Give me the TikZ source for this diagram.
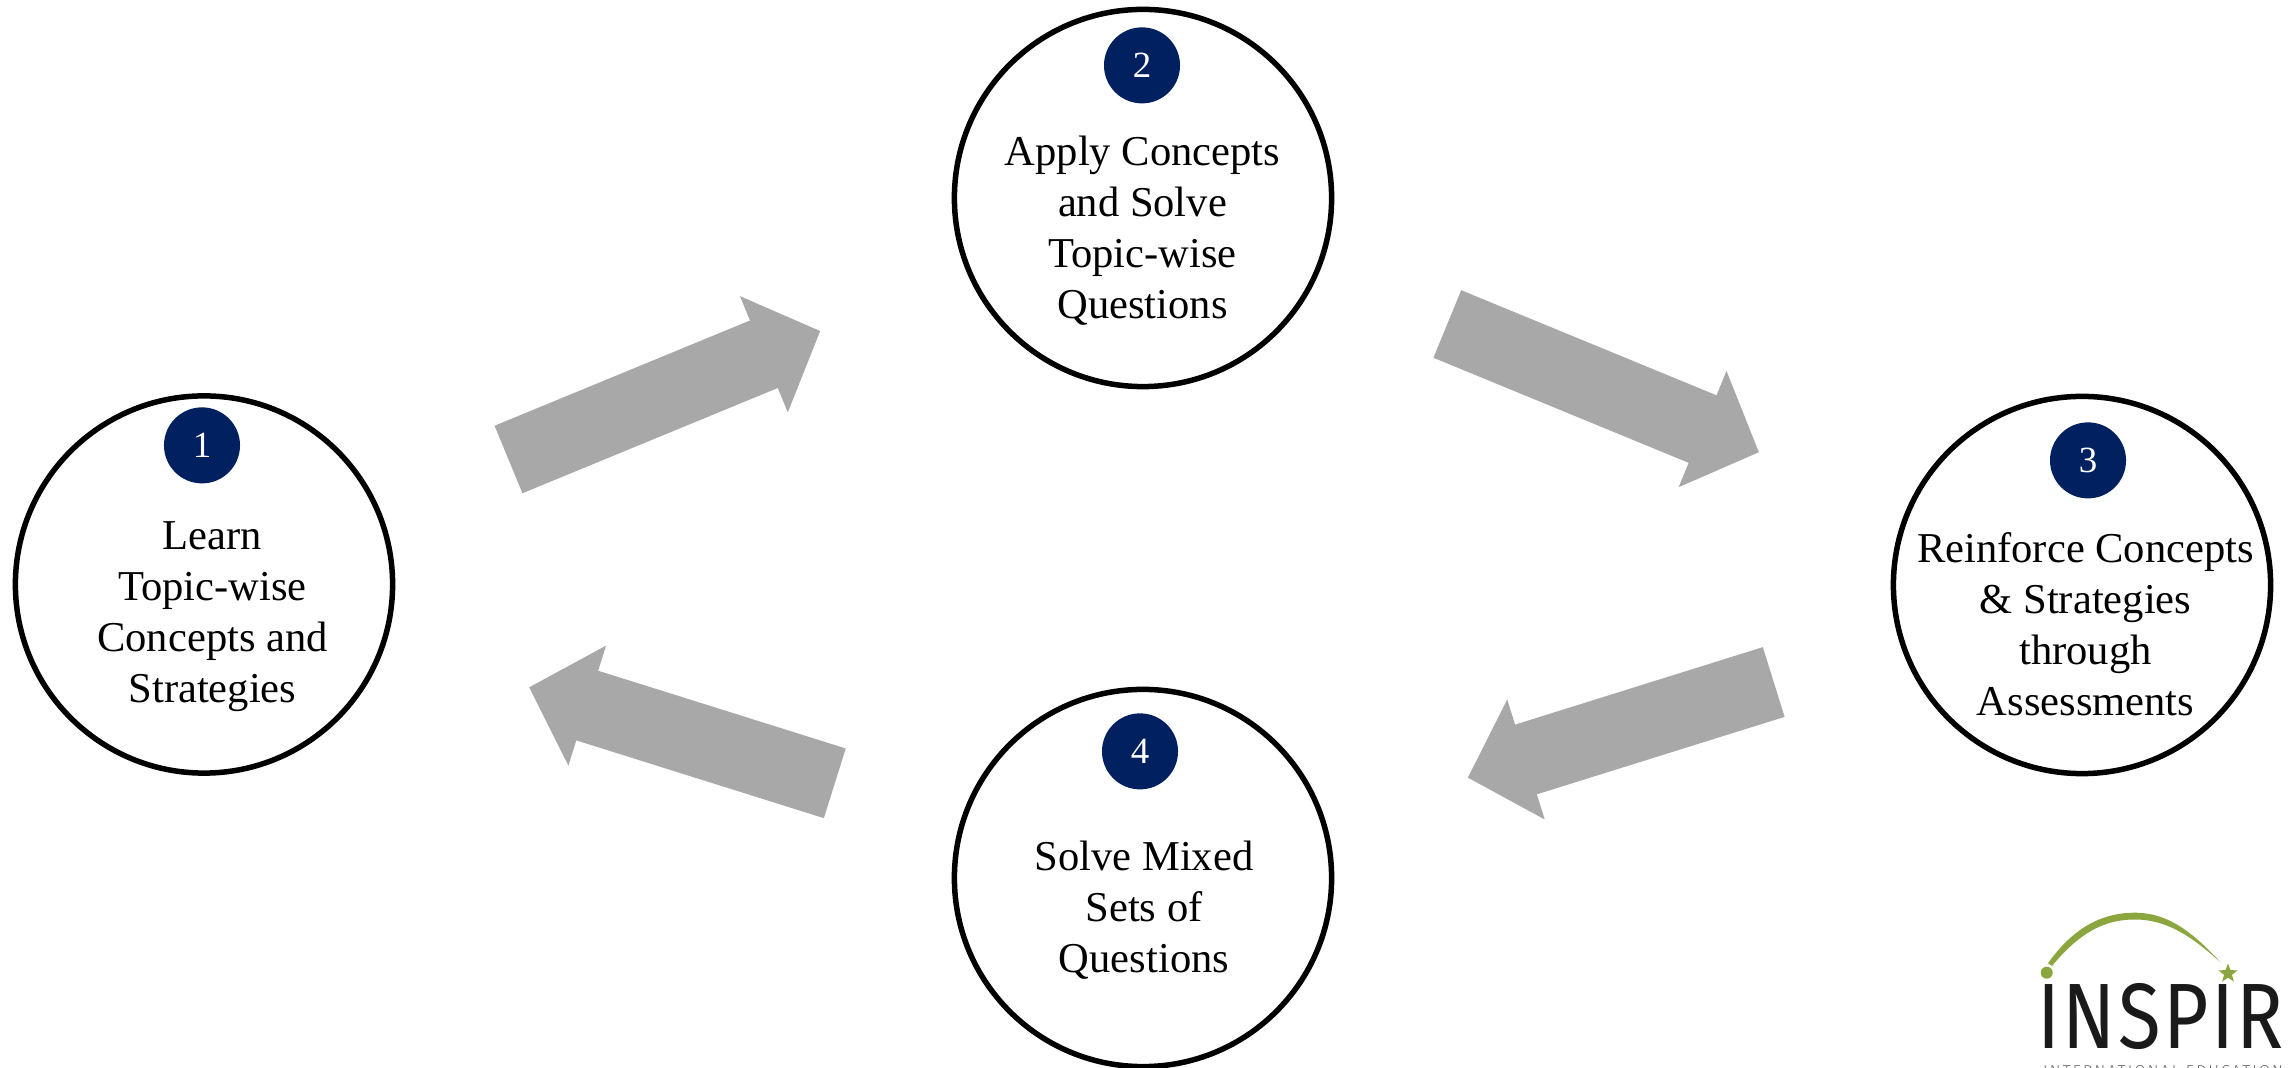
\documentclass[tikz,border=0pt]{standalone}
\usepackage{fontspec}
\setmainfont{Liberation Serif}
\newfontfamily\logofont{Fira Sans}
\newfontfamily\logosubfont{Fira Sans Light}
\usetikzlibrary{arrows.meta,positioning,shapes.geometric}
\definecolor{navy}{HTML}{002060}
\definecolor{arrowgray}{HTML}{A8A8A8}
\definecolor{logogreen}{HTML}{8BA53F}
\definecolor{logoblack}{HTML}{1A1A1A}
\tikzset{
    %Define style for the big circles
    main node/.style={
           circle,
           draw=black,
           line width=.055cm,
           minimum size=3.77cm,
           inner sep=0pt},
    %Define style for the numbers
    badge/.style={
           circle,
           fill=navy,
           text=white,
           minimum size=.76cm,
           inner sep=0pt,
           font=\fontsize{10.5}{12}\selectfont},
    caption/.style={
           align=center,
           inner sep=0pt,
           font=\fontsize{12.1}{14.5}\selectfont},
    % Define arrow style
    pil/.style={
           -{Triangle[length=.61cm,width=1.22cm]},
           draw=arrowgray,
           line width=.73cm}
}
\begin{document}
\begin{tikzpicture}[x=.01cm,y=-.01cm]
\useasboundingbox (0,0) rectangle (2288,1068);
 %nodes
\node[main node](1) at (204,584.5){};
\node[main node](2) at (1143,198){};
\node[main node](3) at (2082,585){};
\node[main node](4) at (1143,878){};
\node[badge, below=.135cm of 1.north, xshift=-.02cm](b1){1};
\node[badge, below=.2cm of 2.north, xshift=-.01cm](b2){2};
\node[badge, below=.28cm of 3.north, xshift=.06cm](b3){3};
\node[badge, below=.26cm of 4.north, xshift=-.03cm](b4){4};
\node[caption, below=.37cm of b1, xshift=.105cm](t1){Learn\\Topic-wise\\Concepts and\\Strategies};
\node[caption, below=.315cm of b2, xshift=.005cm](t2){Apply Concepts\\and Solve\\Topic-wise\\Questions};
\node[caption, below=.325cm of b3, xshift=-.025cm](t3){Reinforce Concepts\\\& Strategies\\through\\Assessments};
\node[caption, below=.5cm of b4, xshift=.04cm](t4){Solve Mixed\\Sets of\\Questions};
 %arrows
\coordinate (a1) at (508.5,459.5);
\coordinate (a2) at (820.3,331);
\coordinate (a3) at (1447.3,324);
\coordinate (a4) at (1759,452.3);
\coordinate (a5) at (1773.7,682);
\coordinate (a6) at (1467.7,777.7);
\coordinate (a7) at (834.8,783.3);
\coordinate (a8) at (529,687.3);
\draw[pil] (a1) -- (a2);
\draw[pil] (a3) -- (a4);
\draw[pil] (a5) -- (a6);
\draw[pil] (a7) -- (a8);
 %logo
\fill[logogreen] (2048,963.3) .. controls (2075,925) and (2105,912.7) .. (2134.7,912.7)
    .. controls (2170,912.7) and (2195,935) .. (2220.3,962)
    .. controls (2195,940) and (2170,919.5) .. (2134.7,919.5)
    .. controls (2105,919.5) and (2080,932) .. (2052,966) -- cycle;
\node[circle, fill=logogreen, minimum size=.12cm, inner sep=0pt](dot) at (2046.7,972.7){};
\node[star, star points=5, star point ratio=2.4, fill=logogreen, minimum size=.2cm, inner sep=0pt](st) at (2228,973.5){};
\node[anchor=base west, inner sep=0pt, text=logoblack, xscale=.84, transform shape, font=\logofont\fontsize{26.4}{30}\selectfont\addfontfeature{LetterSpace=3}](logo) at (2037,1049){INSPIR};
\node[anchor=north, inner sep=0pt, text=black!60, font=\logosubfont\fontsize{4.5}{6}\selectfont\addfontfeature{LetterSpace=14}](sub) at (2163,1065){INTERNATIONAL EDUCATION};
\end{tikzpicture}
\end{document}
